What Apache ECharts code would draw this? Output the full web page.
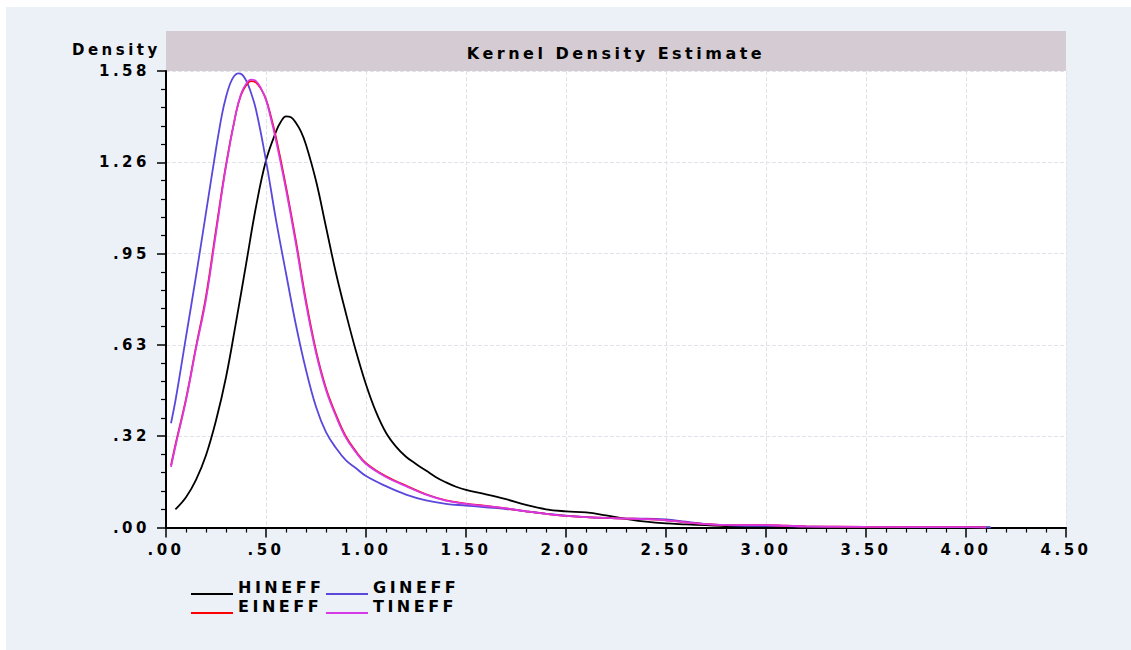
<!DOCTYPE html>
<html>
<head>
<meta charset="utf-8">
<script src="https://cdn.jsdelivr.net/npm/echarts@6/dist/echarts.min.js"></script>
<style>
  html, body { margin: 0; padding: 0; background: #fff; }
  #chart { width: 1131px; height: 650px; }
  #chart text { letter-spacing: 3.5px; }
</style>
</head>
<body>
<div id="chart"></div>
<script>
// tick labels as EViews prints them
var xTickLabels = ['.00', '.50', '1.00', '1.50', '2.00', '2.50', '3.00', '3.50', '4.00', '4.50'];
var yTickLabels = ['.00', '.32', '.63', '.95', '1.26', '1.58'];
var seriesNames = ['HINEFF', 'GINEFF', 'EINEFF', 'TINEFF'];
var seriesColors = ['#000000', '#5a48dc', '#ff0000', '#d63ae6'];

// [x, density]
var hineff = [
  [0.047, 0.063], [0.10, 0.105], [0.15, 0.165], [0.20, 0.25], [0.25, 0.37], [0.30, 0.52],
  [0.35, 0.71], [0.40, 0.91], [0.45, 1.11], [0.50, 1.27], [0.55, 1.37], [0.575, 1.405],
  [0.60, 1.423], [0.625, 1.42], [0.65, 1.40], [0.675, 1.37], [0.70, 1.325], [0.75, 1.20],
  [0.80, 1.04], [0.85, 0.88], [0.90, 0.74], [0.95, 0.61], [1.00, 0.495], [1.05, 0.40],
  [1.10, 0.328], [1.15, 0.28], [1.20, 0.245], [1.25, 0.22], [1.30, 0.197], [1.35, 0.174],
  [1.40, 0.156], [1.45, 0.141], [1.50, 0.13], [1.60, 0.115], [1.70, 0.098], [1.80, 0.078],
  [1.90, 0.063], [2.00, 0.056], [2.10, 0.052], [2.20, 0.042], [2.30, 0.030], [2.40, 0.020],
  [2.50, 0.014], [2.60, 0.011], [2.70, 0.008], [2.80, 0.005], [3.00, 0.003], [3.25, 0.002],
  [3.50, 0.001], [3.75, 0.001], [4.00, 0.000], [4.12, 0.000]
];
var gineff = [
  [0.025, 0.361], [0.05, 0.45], [0.10, 0.66], [0.15, 0.87], [0.20, 1.09], [0.25, 1.31],
  [0.28, 1.43], [0.30, 1.49], [0.32, 1.535], [0.34, 1.562], [0.36, 1.572], [0.38, 1.568],
  [0.40, 1.548], [0.42, 1.515], [0.45, 1.446], [0.50, 1.27], [0.55, 1.065], [0.60, 0.88],
  [0.65, 0.70], [0.70, 0.545], [0.75, 0.418], [0.80, 0.33], [0.85, 0.275], [0.90, 0.232],
  [0.95, 0.205], [1.00, 0.178], [1.10, 0.143], [1.20, 0.114], [1.30, 0.094], [1.40, 0.082],
  [1.50, 0.076], [1.60, 0.070], [1.70, 0.064], [1.80, 0.056], [1.90, 0.048], [2.00, 0.041],
  [2.10, 0.036], [2.20, 0.033], [2.30, 0.031], [2.40, 0.031], [2.50, 0.028], [2.60, 0.020],
  [2.70, 0.012], [2.80, 0.008], [2.90, 0.006], [3.00, 0.006], [3.10, 0.005], [3.20, 0.003],
  [3.50, 0.001], [4.00, 0.001], [4.125, 0.000]
];
var eineff = [
  [0.025, 0.215], [0.05, 0.295], [0.10, 0.445], [0.15, 0.625], [0.20, 0.80], [0.25, 1.03],
  [0.30, 1.255], [0.35, 1.435], [0.375, 1.497], [0.40, 1.53], [0.425, 1.545], [0.45, 1.54],
  [0.475, 1.518], [0.50, 1.482], [0.525, 1.422], [0.55, 1.35], [0.60, 1.18], [0.65, 0.99],
  [0.70, 0.785], [0.75, 0.612], [0.80, 0.482], [0.85, 0.39], [0.90, 0.314], [0.95, 0.263],
  [1.00, 0.223], [1.10, 0.177], [1.20, 0.145], [1.30, 0.115], [1.40, 0.094], [1.50, 0.083],
  [1.60, 0.075], [1.70, 0.066], [1.80, 0.056], [1.90, 0.047], [2.00, 0.040], [2.10, 0.036],
  [2.20, 0.033], [2.30, 0.031], [2.40, 0.029], [2.50, 0.025], [2.60, 0.018], [2.70, 0.012],
  [2.80, 0.009], [2.90, 0.008], [3.00, 0.008], [3.10, 0.006], [3.20, 0.004], [3.50, 0.002],
  [4.00, 0.001], [4.10, 0.000]
];
var tineff = [
  [0.025, 0.21], [0.05, 0.29], [0.10, 0.44], [0.15, 0.62], [0.20, 0.79], [0.25, 1.02],
  [0.30, 1.25], [0.35, 1.435], [0.375, 1.50], [0.40, 1.535], [0.425, 1.55], [0.45, 1.545],
  [0.475, 1.52], [0.50, 1.48], [0.525, 1.415], [0.55, 1.34], [0.60, 1.17], [0.65, 0.98],
  [0.70, 0.775], [0.75, 0.605], [0.80, 0.476], [0.85, 0.385], [0.90, 0.31], [0.95, 0.26],
  [1.00, 0.22], [1.10, 0.175], [1.20, 0.143], [1.30, 0.114], [1.40, 0.093], [1.50, 0.082],
  [1.60, 0.074], [1.70, 0.066], [1.80, 0.056], [1.90, 0.047], [2.00, 0.040], [2.10, 0.036],
  [2.20, 0.033], [2.30, 0.031], [2.40, 0.029], [2.50, 0.025], [2.60, 0.018], [2.70, 0.012],
  [2.80, 0.009], [2.90, 0.008], [3.00, 0.008], [3.10, 0.006], [3.20, 0.004], [3.50, 0.002],
  [4.00, 0.001], [4.10, 0.000]
];

var FONT = '"DejaVu Sans", sans-serif';
var chart = echarts.init(document.getElementById('chart'), null, { renderer: 'svg' });

// legend line sits below the text middle, like the EViews key
var LEGEND_ICON = 'path://M0,0L0.01,0L0.01,0.01L0,0.01Z M0,14L42,14L42,16L0,16Z';

function makeLegend(name, left, top) {
  return {
    data: [name],
    left: left,
    top: top,
    padding: 0,
    icon: LEGEND_ICON,
    itemWidth: 42,
    itemHeight: 16,
    itemGap: 0,
    selectedMode: false,
    textStyle: {
      fontFamily: FONT, fontWeight: 'bold', fontSize: 16, color: '#000', lineHeight: 16
    }
  };
}

function makeSeries(i, data) {
  return {
    name: seriesNames[i],
    type: 'line',
    data: data,
    smooth: 0.4,
    symbol: 'none',
    color: seriesColors[i],
    lineStyle: { color: seriesColors[i], width: 1.8 },
    emphasis: { disabled: true },
    animation: false
  };
}

var option = {
  animation: false,
  backgroundColor: '#ffffff',
  graphic: [
    { type: 'rect', z: -100, shape: { x: 6, y: 7, width: 1125, height: 643 }, style: { fill: '#ecf0f7' } },
    { type: 'rect', z: -50, shape: { x: 166, y: 31, width: 900, height: 40 }, style: { fill: '#d5cbd3' } },
    { type: 'text', z: 10, x: 616, y: 53,
      style: { text: 'Kernel Density Estimate', font: 'bold 16px ' + FONT, fill: '#000', align: 'center', verticalAlign: 'middle' } },
    { type: 'text', z: 10, x: 72, y: 50,
      style: { text: 'Density', font: 'bold 15px ' + FONT, fill: '#000', align: 'left', verticalAlign: 'middle' } }
  ],
  legend: [
    makeLegend('HINEFF', 191, 579),
    makeLegend('GINEFF', 326, 579),
    makeLegend('EINEFF', 191, 598),
    makeLegend('TINEFF', 326, 598)
  ],
  grid: {
    left: 166, top: 71, width: 900, height: 456.5,
    show: true, backgroundColor: '#ffffff', borderWidth: 0
  },
  xAxis: {
    type: 'value', min: 0, max: 4.5, interval: 0.5,
    axisLine: { show: true, lineStyle: { color: '#000', width: 2 } },
    axisTick: { show: true, length: 10, lineStyle: { color: '#000', width: 1.5 } },
    minorTick: { show: true, splitNumber: 5, length: 5, lineStyle: { color: '#000', width: 1.2 } },
    splitLine: { show: true, lineStyle: { color: '#e2e2ea', width: 1, type: [4, 2] } },
    axisLabel: {
      margin: 15, fontFamily: FONT, fontWeight: 'bold', fontSize: 15, color: '#000',
      showMinLabel: true, showMaxLabel: true,
      formatter: function (v, i) { return xTickLabels[i]; }
    }
  },
  yAxis: {
    type: 'value', min: 0, max: 1.58, interval: 0.316,
    axisLine: { show: true, lineStyle: { color: '#000', width: 2 } },
    axisTick: { show: true, length: 9, lineStyle: { color: '#000', width: 1.5 } },
    minorTick: { show: true, splitNumber: 5, length: 5, lineStyle: { color: '#000', width: 1.2 } },
    splitLine: { show: true, lineStyle: { color: '#e2e2ea', width: 1, type: [4, 2] } },
    axisLabel: {
      margin: 16, fontFamily: FONT, fontWeight: 'bold', fontSize: 15, color: '#000',
      showMinLabel: true, showMaxLabel: true,
      formatter: function (v, i) { return yTickLabels[i]; }
    }
  },
  series: [
    makeSeries(0, hineff),
    makeSeries(1, gineff),
    makeSeries(2, eineff),
    makeSeries(3, tineff)
  ]
};
chart.setOption(option);
</script>
</body>
</html>
